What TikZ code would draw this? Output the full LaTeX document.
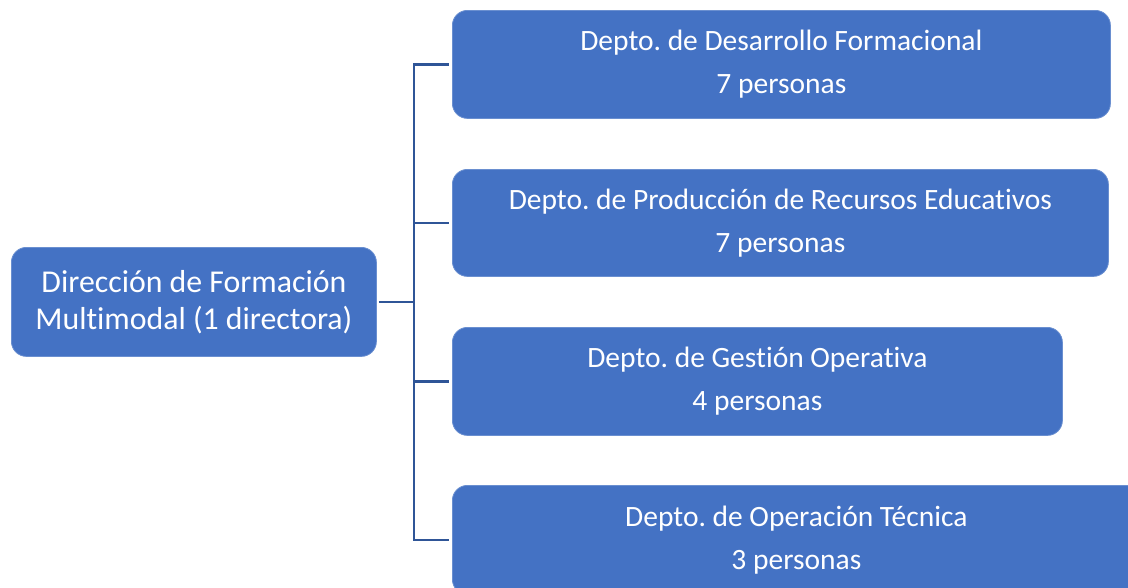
\documentclass[tikz,border=0pt]{standalone}
\usepackage{fontspec}
\setmainfont{Carlito}[Ligatures=NoCommon]
\frenchspacing
\definecolor{boxblue}{HTML}{4472C4}
\definecolor{edgeblue}{HTML}{6A8FD0}
\definecolor{linkblue}{HTML}{2F5597}
\begin{document}
\begin{tikzpicture}[x=1pt,y=-1pt,
  orgbox/.style={draw=edgeblue,line width=0.8pt,fill=boxblue,rounded corners=15pt,
    text=white,align=center,inner sep=0pt,anchor=north west},
  depttext/.style={font=\fontsize{29.5}{43}\selectfont},
  roottext/.style={font=\fontsize{31.8}{37}\selectfont},
  link/.style={draw=linkblue,line width=2.6pt}]
\useasboundingbox (0,0) rectangle (1128,587);
\clip (0,0) rectangle (1128,587);
\node[orgbox,roottext,minimum width=365pt,minimum height=109pt] (root) at (11,247)
  {Dirección de Formación\\Multimodal (1 directora)};
\node[orgbox,depttext,minimum width=658pt,minimum height=108pt] (d1) at (452,10)
  {Depto. de Desarrollo Formacional\\7 personas};
\node[orgbox,depttext,minimum width=656pt,minimum height=107pt] (d2) at (452,169)
  {Depto. de Producción de Recursos Educativos\\7 personas};
\node[orgbox,depttext,minimum width=610pt,minimum height=108pt] (d3) at (452,327)
  {Depto. de Gestión Operativa\\4 personas};
\node[orgbox,depttext,minimum width=688pt,minimum height=109pt] (d4) at (452,485)
  {Depto. de Operación Técnica\\3 personas};
\path (root.east) ++(37,0) coordinate (bus);
\draw[link,shorten <=2pt] (root.east) -- (bus);
\draw[link,shorten >=3pt] (bus) |- (d1.west);
\draw[link,shorten >=3pt] (bus) |- (d2.west);
\draw[link,shorten >=3pt] (bus) |- (d3.west);
\draw[link,shorten >=3pt] (bus) |- (d4.west);
\end{tikzpicture}
\end{document}
